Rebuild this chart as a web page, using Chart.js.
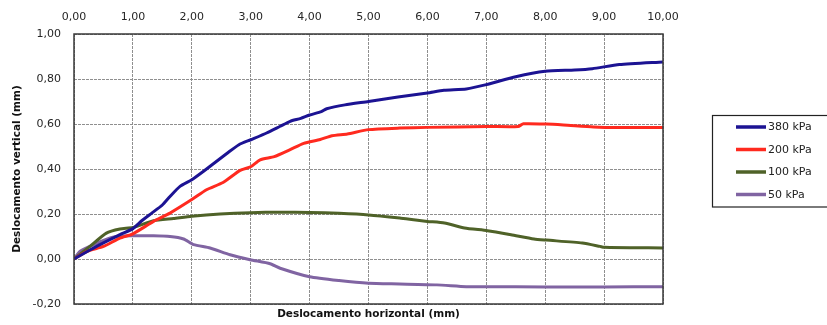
<!DOCTYPE html>
<html>
<head>
<meta charset="utf-8">
<script src="https://cdn.jsdelivr.net/npm/chart.js@4/dist/chart.umd.min.js"></script>
<style>
  body { margin: 0; background: #fff; }
</style>
</head>
<body>
<canvas id="grafico" width="827" height="325"></canvas>
<script>
  // leituras do ensaio (deslocamento horizontal x vertical, mm)
  const x380 = [0, 0.27, 0.44, 0.78, 1.0, 1.15, 1.32, 1.5, 1.63, 1.8, 2.0, 2.2, 2.4, 2.6, 2.8, 3.0, 3.27, 3.5, 3.67, 3.85, 4.0, 4.2, 4.29, 4.6, 5.0, 5.5, 6.0, 6.28, 6.66, 7.0, 7.5, 8.0, 8.5, 8.8, 9.26, 10.0];
  const y380 = [0, 0.04, 0.064, 0.108, 0.135, 0.17, 0.204, 0.24, 0.278, 0.323, 0.352, 0.39, 0.43, 0.47, 0.508, 0.53, 0.56, 0.59, 0.612, 0.625, 0.64, 0.655, 0.668, 0.685, 0.70, 0.72, 0.738, 0.75, 0.756, 0.775, 0.81, 0.834, 0.84, 0.846, 0.864, 0.876];

  const x200 = [0, 0.22, 0.5, 0.78, 1.0, 1.35, 1.63, 2.0, 2.25, 2.53, 2.82, 3.0, 3.16, 3.4, 3.67, 3.9, 4.18, 4.38, 4.64, 5.0, 5.53, 6.0, 7.02, 7.54, 7.63, 8.02, 8.31, 8.82, 9.2, 10.0];
  const y200 = [0, 0.034, 0.056, 0.093, 0.112, 0.167, 0.204, 0.264, 0.308, 0.34, 0.394, 0.41, 0.441, 0.455, 0.486, 0.514, 0.531, 0.548, 0.556, 0.575, 0.582, 0.585, 0.589, 0.589, 0.601, 0.6, 0.596, 0.587, 0.584, 0.585];

  const x100 = [0, 0.27, 0.55, 0.78, 1.0, 1.35, 1.69, 2.0, 2.48, 3.0, 3.5, 4.0, 4.5, 5.0, 5.53, 5.8, 6.0, 6.29, 6.63, 7.02, 7.42, 7.81, 8.02, 8.63, 8.93, 9.0, 9.5, 10.0];
  const y100 = [0, 0.056, 0.115, 0.133, 0.14, 0.17, 0.18, 0.19, 0.2, 0.206, 0.208, 0.207, 0.203, 0.196, 0.182, 0.173, 0.167, 0.16, 0.138, 0.126, 0.108, 0.089, 0.084, 0.071, 0.056, 0.052, 0.05, 0.049];

  const x50 = [0, 0.1, 0.27, 0.5, 0.72, 1.0, 1.35, 1.63, 1.86, 2.03, 2.31, 2.65, 2.99, 3.33, 3.5, 4.0, 4.5, 5.0, 5.53, 6.16, 6.66, 7.0, 8.0, 9.0, 10.0];
  const y50 = [0, 0.034, 0.056, 0.083, 0.1, 0.103, 0.103, 0.1, 0.089, 0.064, 0.049, 0.019, -0.003, -0.021, -0.041, -0.079, -0.096, -0.108, -0.111, -0.115, -0.123, -0.123, -0.124, -0.124, -0.123];

  const rotulos = ["380 kPa", "200 kPa", "100 kPa", "50 kPa"];
  const cores = ["#1c1393", "#ff2a1f", "#4f6228", "#8064a2"];

  const pontos = (xs, ys) => xs.map((x, i) => ({ x: x, y: ys[i] }));
  const virgula = v => (Math.abs(v) < 1e-9 ? 0 : v).toFixed(2).replace(".", ",");

  const fonte = "'DejaVu Sans', Verdana, sans-serif";

  // moldura da área de plotagem + legenda com borda
  const moldura = {
    id: "moldura",
    afterDraw(chart) {
      const c = chart.ctx, a = chart.chartArea;
      c.save();
      c.strokeStyle = "#3a3a3a";
      c.lineWidth = 1.5;
      c.strokeRect(a.left, a.top, a.right - a.left, a.bottom - a.top);

      c.strokeStyle = "#222";
      c.lineWidth = 1.2;
      c.strokeRect(712.5, 115.5, 120, 91.5);
      c.font = "11px " + fonte;
      c.textBaseline = "middle";
      c.fillStyle = "#222";
      chart.data.datasets.forEach((ds, i) => {
        const y = 127 + i * 22.5;
        c.strokeStyle = ds.borderColor;
        c.lineWidth = 3.5;
        c.beginPath();
        c.moveTo(736, y);
        c.lineTo(766, y);
        c.stroke();
        c.fillText(ds.label, 768, y + 0.5);
      });
      c.restore();
    }
  };

  new Chart(document.getElementById("grafico"), {
    type: "line",
    data: {
      datasets: [
        { label: rotulos[0], data: pontos(x380, y380), borderColor: cores[0] },
        { label: rotulos[1], data: pontos(x200, y200), borderColor: cores[1] },
        { label: rotulos[2], data: pontos(x100, y100), borderColor: cores[2] },
        { label: rotulos[3], data: pontos(x50, y50), borderColor: cores[3] }
      ].map(d => Object.assign(d, { borderWidth: 3, pointRadius: 0, tension: 0.2, fill: false }))
    },
    options: {
      responsive: false,
      animation: false,
      layout: { padding: { left: 0, right: 164, top: 0, bottom: 0 } },
      plugins: { legend: { display: false }, tooltip: { enabled: false } },
      scales: {
        x: {
          type: "linear",
          position: "top",
          min: 0, max: 10,
          afterFit: s => { s.height = 34; },
          ticks: { stepSize: 1, padding: 10, color: "#262626", font: { family: fonte, size: 11 }, callback: virgula, maxRotation: 0 },
          grid: { color: "#8f8f8f", drawTicks: false },
          border: { display: false, dash: [3, 1] }
        },
        x2: {
          type: "linear",
          position: "bottom",
          min: 0, max: 10,
          afterFit: s => { s.height = 21; },
          ticks: { display: false },
          grid: { display: false },
          border: { display: false },
          title: { display: true, text: "Deslocamento horizontal (mm)", color: "#111", padding: { top: 0, bottom: 4 }, font: { family: fonte, size: 10.5, weight: "bold" } }
        },
        y: {
          min: -0.2, max: 1.0,
          afterFit: s => { s.width = 74; },
          ticks: { stepSize: 0.2, padding: 13, color: "#262626", font: { family: fonte, size: 11 }, callback: virgula },
          grid: { color: "#8f8f8f", drawTicks: false },
          border: { display: false, dash: [3, 1] },
          title: { display: true, text: "Deslocamento vertical (mm)", color: "#111", padding: { top: 11, bottom: 0 }, font: { family: fonte, size: 10.5, weight: "bold" } }
        }
      }
    },
    plugins: [moldura]
  });
</script>
</body>
</html>
